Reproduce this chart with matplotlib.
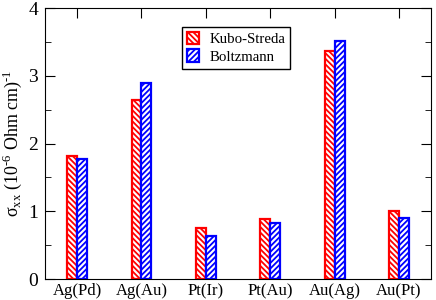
import numpy as np
import matplotlib.pyplot as plt

plt.rcParams['font.family'] = ['Liberation Serif', 'DejaVu Serif']
plt.rcParams['mathtext.fontset'] = 'custom'
plt.rcParams['mathtext.rm'] = 'Liberation Serif'
plt.rcParams['hatch.linewidth'] = 1.3

labels = ['Ag(Pd)', 'Ag(Au)', 'Pt(Ir)', 'Pt(Au)', 'Au(Ag)', 'Au(Pt)']
kubo = [1.81, 2.64, 0.75, 0.89, 3.37, 1.00]
boltz = [1.77, 2.90, 0.64, 0.83, 3.51, 0.90]

x = np.arange(1, len(labels) + 1)
w = 0.155

fig = plt.figure(figsize=(4.36, 3.0), dpi=100)
ax = fig.add_axes([0.103, 0.07, 0.886, 0.903])

b1 = ax.bar(x - w / 2, kubo, w, facecolor='white', edgecolor='red',
            hatch='\\' * 6, linewidth=1.6, label='Kubo-Streda')
b2 = ax.bar(x + w / 2, boltz, w, facecolor='white', edgecolor='blue',
            hatch='/' * 6, linewidth=1.6, label='Boltzmann')

ax.set_xlim(0.5, 6.5)
ax.set_ylim(0, 4)
ax.set_xticks(x)
ax.set_xticklabels(labels, fontsize=12)
ax.set_yticks([0, 1, 2, 3, 4])
ax.set_yticks(np.arange(0.5, 4, 1), minor=True)
ax.tick_params(axis='y', which='both', direction='in', right=True, labelsize=14, pad=5)
ax.tick_params(axis='y', which='major', length=7)
ax.tick_params(axis='y', which='minor', length=4)
ax.tick_params(axis='x', direction='in', bottom=False, top=True, length=7, pad=3)
ax.set_ylabel('σ$_{\\mathrm{xx}}$ (10$^{\\mathrm{\u20106}}$ Ohm cm)$^{\\mathrm{\u20101}}$',
              fontsize=13, labelpad=3)

leg = ax.legend(loc='upper left', bbox_to_anchor=(0.354, 0.931), fontsize=10.7,
                fancybox=False, edgecolor='black', framealpha=1,
                borderaxespad=0, handlelength=0.8, handleheight=0.9,
                handletextpad=0.7, borderpad=0.35, labelspacing=0.2)
leg.get_frame().set_linewidth(1.0)

plt.savefig('out.png')
